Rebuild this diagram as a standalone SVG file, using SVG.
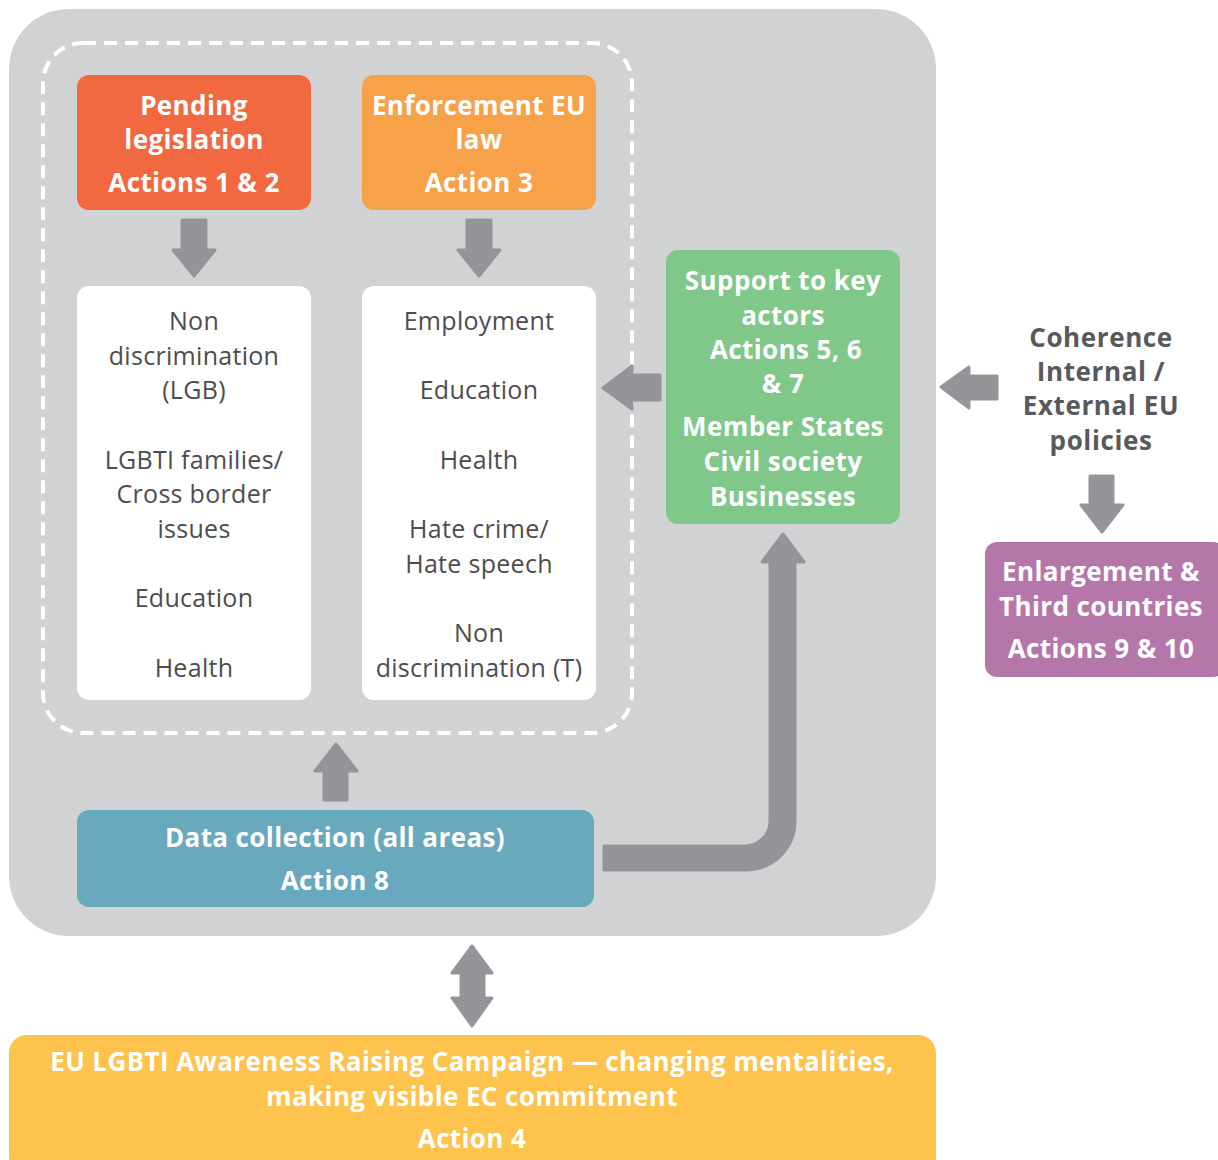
<svg xmlns="http://www.w3.org/2000/svg" width="1218" height="1160" viewBox="0 0 1218 1160">
<style>
.b{font-family:"Open Sans","Noto Sans","Liberation Sans",sans-serif;font-weight:bold;font-size:26px;letter-spacing:0.4px;fill:#fff;text-anchor:middle}
.r{font-family:"Open Sans","Noto Sans","Liberation Sans",sans-serif;font-size:25px;letter-spacing:0.3px;fill:#4d4d4f;text-anchor:middle}
.d{font-family:"Open Sans","Noto Sans","Liberation Sans",sans-serif;font-weight:bold;font-size:26px;letter-spacing:0.6px;fill:#58595b;text-anchor:middle}
.ar{fill:#939598;stroke:#939598;stroke-width:3;stroke-linejoin:round}
</style>
<rect width="1218" height="1160" fill="#fff"/>
<g id="frame">
<rect x="9" y="9" width="927" height="927" rx="60" fill="#d1d2d4"/>
<rect x="43" y="43" width="589" height="690" rx="40" fill="none" stroke="#fff" stroke-width="4" stroke-dasharray="13 8"/>
</g>
<g id="connectors">
<path class="ar" d="M182,220 H206 V250 H215 L194,276 L173,250 H182 Z"/>
<path class="ar" d="M467,220 H491 V250 H500 L479,276 L458,250 H467 Z"/>
<path class="ar" d="M660,375 V400 H632 V409 L603,388 L632,366 V375 Z"/>
<path class="ar" d="M997,376 V399 H969 V408 L941,387 L969,367 V376 Z"/>
<path class="ar" d="M1090,476 H1113 V505 H1123 L1102,532 L1081,505 H1090 Z"/>
<path class="ar" d="M324,800 H347 V771 H357 L336,744 L315,771 H324 Z"/>
<path class="ar" d="M604,846 H745 A25,25 0 0 0 770,821 V562 H762 L783,534 L804,562 H795 V821 A49,49 0 0 1 746,870 H604 Z"/>
<path class="ar" d="M472,946 L492,973 H484 V998 H492 L472,1026 L452,998 H461 V973 H452 Z"/>
</g>
<g id="pending">
<rect x="77" y="75" width="234" height="135" rx="12" fill="#f26941"/>
<text class="b" x="194" y="115">Pending</text>
<text class="b" x="194" y="149">legislation</text>
<text class="b" x="194" y="192">Actions 1 &amp; 2</text>
</g>
<g id="enforcement">
<rect x="362" y="75" width="234" height="135" rx="12" fill="#f7a149"/>
<text class="b" x="479" y="115">Enforcement EU</text>
<text class="b" x="479" y="149">law</text>
<text class="b" x="479" y="192">Action 3</text>
</g>
<g id="areas-left">
<rect x="77" y="286" width="234" height="414" rx="12" fill="#fff"/>
<text class="r" x="194" y="330">Non</text>
<text class="r" x="194" y="365">discrimination</text>
<text class="r" x="194" y="399">(LGB)</text>
<text class="r" x="194" y="469">LGBTI families/</text>
<text class="r" x="194" y="503">Cross border</text>
<text class="r" x="194" y="538">issues</text>
<text class="r" x="194" y="607">Education</text>
<text class="r" x="194" y="677">Health</text>
</g>
<g id="areas-right">
<rect x="362" y="286" width="234" height="414" rx="12" fill="#fff"/>
<text class="r" x="479" y="330">Employment</text>
<text class="r" x="479" y="399">Education</text>
<text class="r" x="479" y="469">Health</text>
<text class="r" x="479" y="538">Hate crime/</text>
<text class="r" x="479" y="573">Hate speech</text>
<text class="r" x="479" y="642">Non</text>
<text class="r" x="479" y="677">discrimination (T)</text>
</g>
<g id="support">
<rect x="666" y="250" width="234" height="274" rx="12" fill="#80c88a"/>
<text class="b" x="783" y="290">Support to key</text>
<text class="b" x="783" y="325">actors</text>
<text class="b" x="786" y="359">Actions 5, 6</text>
<text class="b" x="783" y="393">&amp; 7</text>
<text class="b" x="783" y="436">Member States</text>
<text class="b" x="783" y="471">Civil society</text>
<text class="b" x="783" y="506">Businesses</text>
</g>
<g id="coherence">
<text class="d" x="1101" y="347">Coherence</text>
<text class="d" x="1101" y="381">Internal /</text>
<text class="d" x="1101" y="415">External EU</text>
<text class="d" x="1101" y="450">policies</text>
</g>
<g id="enlargement">
<rect x="985" y="542" width="240" height="135" rx="12" fill="#b577aa"/>
<text class="b" x="1101" y="581">Enlargement &amp;</text>
<text class="b" x="1101" y="616">Third countries</text>
<text class="b" x="1101" y="658">Actions 9 &amp; 10</text>
</g>
<g id="data">
<rect x="77" y="810" width="517" height="97" rx="12" fill="#68a9be"/>
<text class="b" x="335" y="847">Data collection (all areas)</text>
<text class="b" x="335" y="890">Action 8</text>
</g>
<g id="campaign">
<rect x="9" y="1035" width="927" height="140" rx="18" fill="#fdc34d"/>
<text class="b" x="472" y="1071">EU LGBTI Awareness Raising Campaign — changing mentalities,</text>
<text class="b" x="472" y="1106">making visible EC commitment</text>
<text class="b" x="472" y="1148">Action 4</text>
</g>
</svg>
